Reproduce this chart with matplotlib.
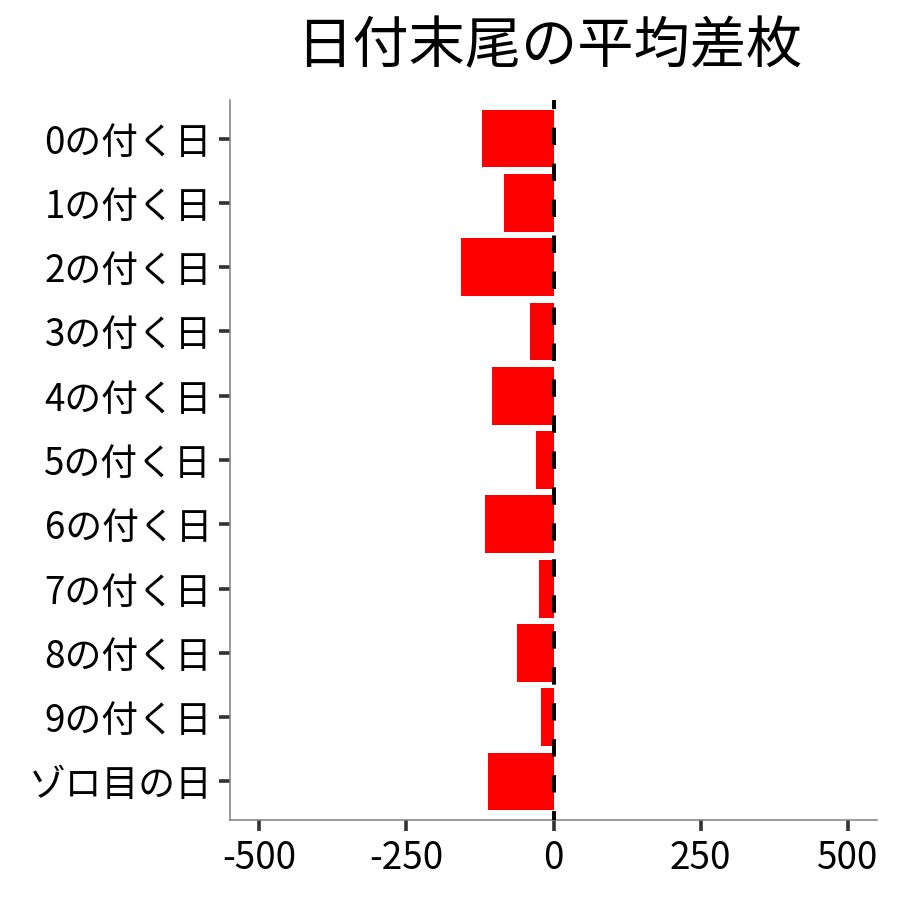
import matplotlib
matplotlib.use("Agg")
import matplotlib.pyplot as plt

plt.rcParams['font.family'] = ['Noto Sans CJK JP', 'DejaVu Sans']

categories = ["0の付く日", "1の付く日", "2の付く日", "3の付く日", "4の付く日",
              "5の付く日", "6の付く日", "7の付く日", "8の付く日", "9の付く日", "ゾロ目の日"]
values = [-121, -84, -157, -40, -104, -30, -116, -25, -62, -21, -111]
xticks = [-500, -250, 0, 250, 500]
title = "日付末尾の平均差枚"

fig = plt.figure(figsize=(9, 9), dpi=100)
ax = fig.add_axes([230/900, 80/900, 647/900, 720/900])

ypos = list(range(len(categories)))
ax.barh(ypos, values, height=0.9, color="#FF0000", zorder=2)
ax.axvline(0, color="black", linewidth=2.8, linestyle=(2.2, (4.5, 4.75)), zorder=3)

ax.set_xlim(-550, 550)
ax.set_ylim(len(categories) - 0.4, -0.6)
ax.set_yticks(ypos)
ax.set_yticklabels(categories)
ax.set_xticks(xticks)
ax.set_xticklabels([str(t) for t in xticks])

ax.tick_params(axis='both', length=8, width=2.6, color="#333333",
               labelsize=26.5, labelcolor="black")
ax.tick_params(axis='y', pad=5)
ax.tick_params(axis='x', pad=6)

for s in ["top", "right"]:
    ax.spines[s].set_visible(False)
for s in ["left", "bottom"]:
    ax.spines[s].set_color("#808080")
    ax.spines[s].set_linewidth(1.1)

fig.text(549/900, 1 - 47/900, title, ha="center", va="center", fontsize=40.5)

fig.savefig("out.png", dpi=100, facecolor="white")
